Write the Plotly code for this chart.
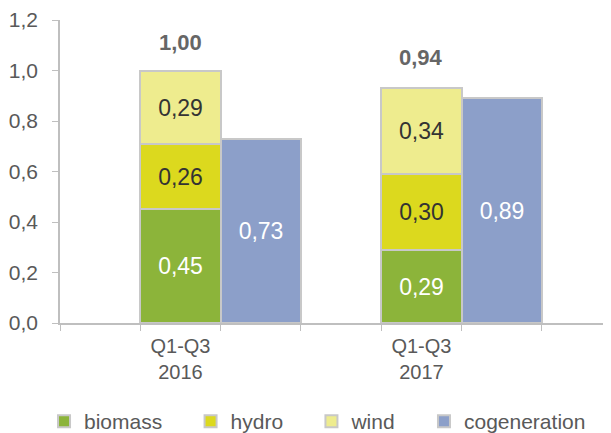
import plotly.graph_objects as go

categories = ["Q1-Q3<br>2016", "Q1-Q3<br>2017"]
biomass = [0.45, 0.29]
hydro = [0.26, 0.30]
wind = [0.29, 0.34]
cogeneration = [0.73, 0.89]
totals = [1.00, 0.94]
y_ticks = [0.0, 0.2, 0.4, 0.6, 0.8, 1.0, 1.2]

def fmt(v):
    return f"{v:.2f}".replace(".", ",")

stack_x = [i * 3 + 1.5 for i in range(len(categories))]
cogen_x = [x + 1 for x in stack_x]

FONT = "Liberation Sans, Arial, sans-serif"
PAD = "\u00a0" * 4
border = dict(color="#c8c8c8", width=2)
fig = go.Figure()

def add_stack(name, vals, color, tcolor, x, pad=PAD):
    fig.add_trace(go.Bar(
        name=name + pad, x=x, y=vals, width=1,
        marker=dict(color=color, line=border),
        text=[fmt(v) for v in vals], textposition="inside",
        insidetextanchor="middle", textangle=0,
        textfont=dict(size=23, color=tcolor, family=FONT),
        constraintext="none", hoverinfo="skip",
    ))

add_stack("biomass", biomass, "#8cb43a", "#ffffff", stack_x)
add_stack("hydro", hydro, "#dcd91e", "#333333", stack_x)
add_stack("wind", wind, "#eeec8e", "#333333", stack_x)
add_stack("cogeneration", cogeneration, "#8c9fc9", "#ffffff", cogen_x, pad="")

for x, t in zip(stack_x, totals):
    fig.add_annotation(x=x, y=t, text=f"<b>{fmt(t)}</b>", showarrow=False,
                       yanchor="bottom", yshift=14,
                       font=dict(size=22, color="#666666", family=FONT))

fig.update_layout(
    width=603, height=425,
    margin=dict(l=52, r=0, t=12, b=110, autoexpand=False),
    paper_bgcolor="white", plot_bgcolor="white",
    barmode="stack", bargap=0,
    font=dict(family=FONT, color="#595959", size=21),
    legend=dict(orientation="h", x=-0.029, xanchor="left", y=-0.325, yanchor="middle",
                font=dict(size=21, color="#595959", family=FONT), traceorder="normal",
                bgcolor="rgba(0,0,0,0)"),
    showlegend=True,
)
fig.update_xaxes(range=[0, 6.86], tickvals=stack_x, ticktext=categories, ticks="",
                 showline=True, linecolor="#bfbfbf", linewidth=1.5, showgrid=False,
                 zeroline=False, automargin=False, ticklabelstandoff=4,
                 minor=dict(tick0=0, dtick=1, ticks="outside", ticklen=6,
                            tickcolor="#bfbfbf", showgrid=False),
                 tickfont=dict(size=20, color="#595959", family=FONT))
fig.update_yaxes(range=[0, 1.2], tickvals=y_ticks, tickformat=".1f",
                 ticks="outside", ticklen=6, tickcolor="#bfbfbf",
                 showline=True, linecolor="#bfbfbf", linewidth=1.5, showgrid=False,
                 zeroline=False, ticklabelstandoff=10, automargin=False,
                 tickfont=dict(size=21, color="#595959", family=FONT))
fig.update_layout(separators=", ")

fig.write_html("out.html")
